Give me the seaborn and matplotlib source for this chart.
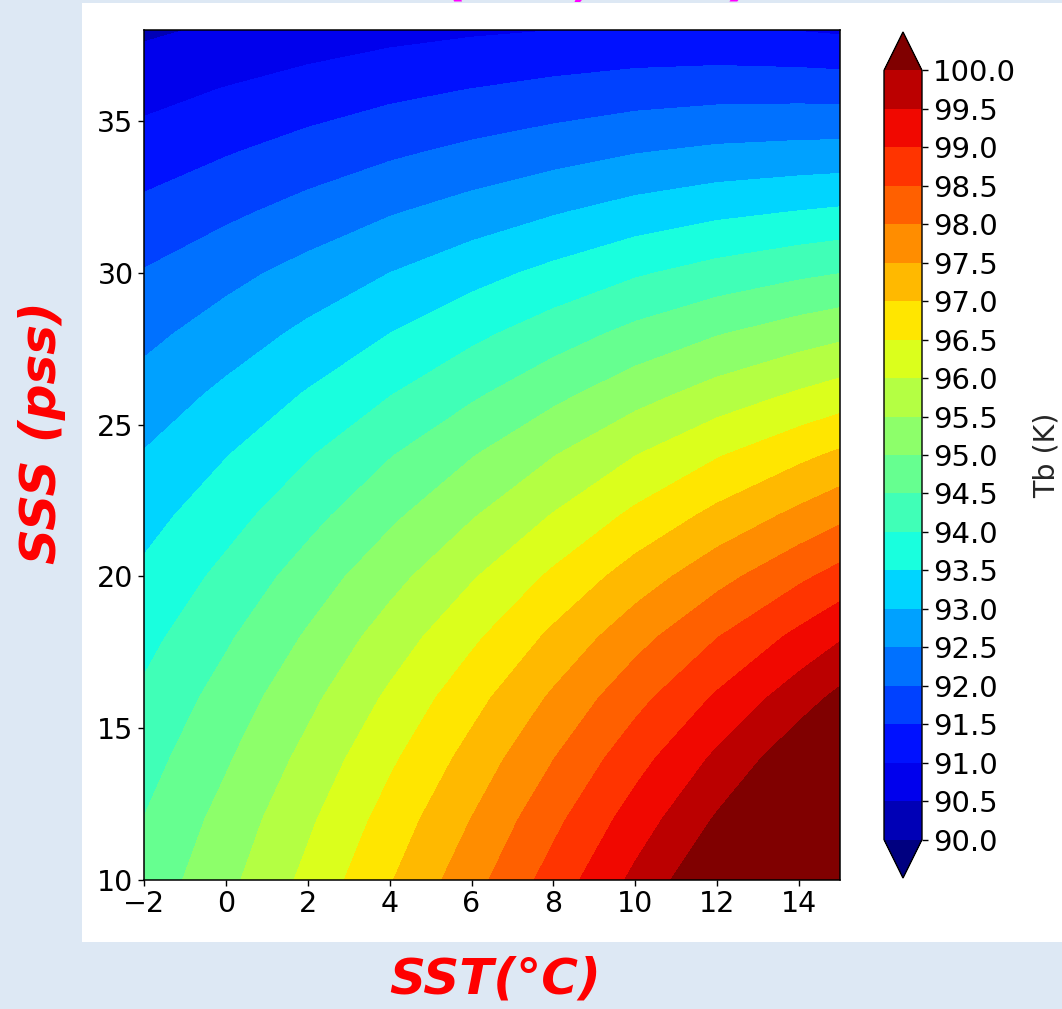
import numpy as np
import matplotlib
matplotlib.use("Agg")
import matplotlib.pyplot as plt
import matplotlib.colors as mcolors
import seaborn as sns
from matplotlib.patches import Rectangle

# ---------------- data ----------------
sst = [-2, 0, 2, 4, 6, 8, 10, 12, 14, 15]
sss = [10, 12, 14, 16, 18, 20, 22, 24, 26, 28, 30, 32, 34, 36, 38]

tb_s10 = [94.68, 95.36, 96.13, 96.96, 97.81, 98.71, 99.62, 100.50, 101.36, 101.80]
tb_s12 = [94.51, 95.17, 95.91, 96.70, 97.51, 98.37, 99.23, 100.06, 100.87, 101.28]
tb_s14 = [94.30, 94.94, 95.65, 96.41, 97.18, 97.99, 98.81, 99.60, 100.35, 100.74]
tb_s16 = [94.09, 94.70, 95.37, 96.09, 96.82, 97.58, 98.34, 99.07, 99.78, 100.13]
tb_s18 = [93.85, 94.43, 95.06, 95.73, 96.40, 97.11, 97.82, 98.49, 99.13, 99.45]
tb_s20 = [93.60, 94.13, 94.72, 95.33, 95.95, 96.59, 97.23, 97.83, 98.40, 98.68]
tb_s22 = [93.32, 93.81, 94.34, 94.90, 95.46, 96.03, 96.61, 97.14, 97.63, 97.88]
tb_s24 = [93.03, 93.48, 93.96, 94.47, 94.97, 95.48, 95.99, 96.46, 96.88, 97.09]
tb_s26 = [92.70, 93.11, 93.54, 93.98, 94.42, 94.87, 95.31, 95.71, 96.06, 96.23]
tb_s28 = [92.37, 92.73, 93.11, 93.50, 93.88, 94.26, 94.64, 94.97, 95.25, 95.38]
tb_s30 = [92.03, 92.35, 92.67, 93.00, 93.32, 93.63, 93.94, 94.19, 94.40, 94.49]
tb_s32 = [91.63, 91.90, 92.18, 92.46, 92.71, 92.96, 93.20, 93.39, 93.52, 93.58]
tb_s34 = [91.23, 91.46, 91.69, 91.91, 92.11, 92.29, 92.47, 92.59, 92.65, 92.67]
tb_s36 = [90.83, 91.03, 91.21, 91.38, 91.52, 91.65, 91.76, 91.82, 91.82, 91.80]
tb_s38 = [90.42, 90.58, 90.72, 90.84, 90.93, 90.995, 91.05, 91.05, 90.98, 90.93]

cb_levels = [90.0, 90.5, 91.0, 91.5, 92.0, 92.5, 93.0, 93.5, 94.0, 94.5, 95.0,
             95.5, 96.0, 96.5, 97.0, 97.5, 98.0, 98.5, 99.0, 99.5, 100.0]
x_ticks = [-2, 0, 2, 4, 6, 8, 10, 12, 14]
y_ticks = [10, 15, 20, 25, 30, 35]

tb = np.array([tb_s10, tb_s12, tb_s14, tb_s16, tb_s18, tb_s20, tb_s22, tb_s24,
               tb_s26, tb_s28, tb_s30, tb_s32, tb_s34, tb_s36, tb_s38])

# ---------------- style ----------------
sns.set_theme(style="ticks")
plt.rcParams['font.family'] = ['DejaVu Sans']
plt.rcParams.update({
    'axes.edgecolor': 'black',
    'axes.linewidth': 1.1,
    'xtick.color': 'black', 'ytick.color': 'black',
    'xtick.major.size': 4.5, 'ytick.major.size': 4.5,
    'xtick.major.width': 1.0, 'ytick.major.width': 1.0,
    'xtick.direction': 'out', 'ytick.direction': 'out',
})

W, H = 1062, 1009
bg = '#dde8f4'
fig = plt.figure(figsize=(W / 100, H / 100), dpi=100, facecolor=bg)

def fr(x0, y0, x1, y1):
    return [x0 / W, 1 - y1 / H, (x1 - x0) / W, (y1 - y0) / H]

# white panel holding the chart
panel = Rectangle((82 / W, 1 - 942 / H), (1062 - 82) / W, (942 - 3) / H,
                  transform=fig.transFigure, facecolor='white',
                  edgecolor='none', zorder=-10)
fig.add_artist(panel)

cmap = matplotlib.colormaps['jet']
norm = mcolors.BoundaryNorm(cb_levels, ncolors=cmap.N, extend='both')

ax = fig.add_axes(fr(144, 30, 840, 880))
ax.set_zorder(1)
cs = ax.contourf(sst, sss, tb, levels=cb_levels, cmap=cmap, norm=norm,
                 extend='both')
ax.set_xlim(-2, 15)
ax.set_ylim(10, 38)
ax.set_xticks(x_ticks)
ax.set_yticks(y_ticks)
ax.tick_params(labelsize=20.5, pad=3)
for s in ax.spines.values():
    s.set_visible(True)
    s.set_color('black')

cax = fig.add_axes(fr(884, 32, 922, 878))
cax.set_zorder(1)
cb = fig.colorbar(cs, cax=cax, ticks=cb_levels, format='%.1f')
cb.ax.tick_params(labelsize=21, length=4.5, width=1.0, pad=3.5)
cb.set_label('Tb (K)', fontsize=20.5, labelpad=12)
cb.outline.set_edgecolor('black')
cb.outline.set_linewidth(1.0)

# outer labels (slide style)
fig.text(495 / W, 1 - 980 / H, 'SST(°C)', color='red', fontsize=36,
         fontweight='bold', fontstyle='italic', ha='center', va='center')
fig.text(42 / W, 1 - 433 / H, 'SSS (pss)', color='red', fontsize=36,
         fontweight='bold', fontstyle='italic', ha='center', va='center',
         rotation=90)
# title, almost entirely above the top edge (as in the reference)
fig.text(756 / W, 1 + 6 / H, 'Tb (SST, SSS)', color='magenta', fontsize=39.5,
         fontweight='bold', fontstyle='italic', ha='right', va='baseline')

fig.savefig('out.png', dpi=100, facecolor=bg)
